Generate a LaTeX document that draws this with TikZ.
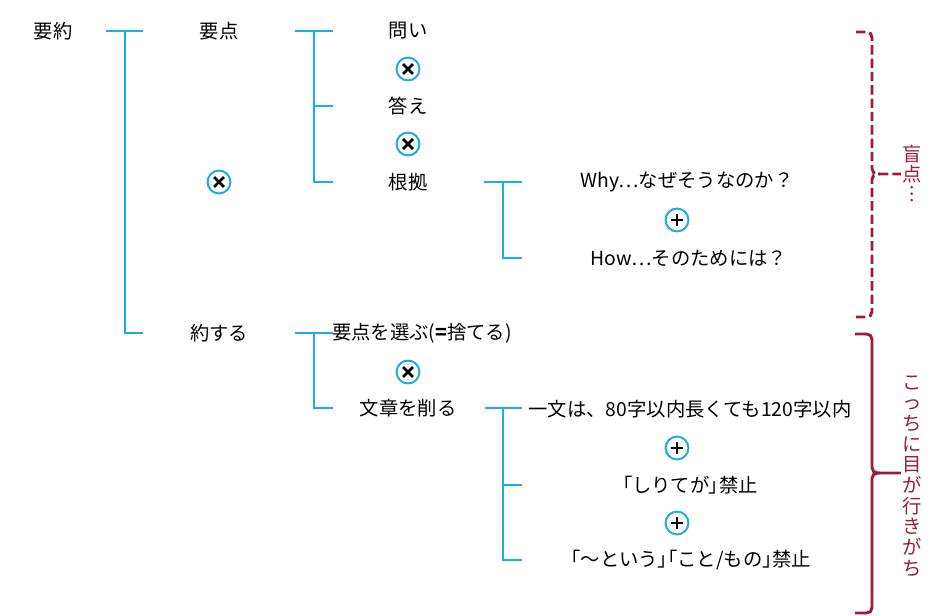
\documentclass[tikz,border=0pt]{standalone}
\usepackage{fontspec}
\newfontfamily\jp{Noto Sans CJK JP}
\newfontfamily\jpp[RawFeature=+palt]{Noto Sans CJK JP}
\usetikzlibrary{calc}
\definecolor{tblue}{RGB}{30,172,226}
\definecolor{bred}{RGB}{160,28,54}
\newcommand{\pl}[1]{{\jpp #1}}
\begin{document}
\begin{tikzpicture}[x=0.75pt,y=-0.75pt,
  lbl/.style={font=\jp\fontsize{14.5}{17}\selectfont, inner sep=0pt, anchor=center},
  vlbl/.style={font=\jp\fontsize{14.5}{15.5}\selectfont, text=bred, inner sep=0pt, align=center, anchor=center},
  treeline/.style={draw=tblue, line width=1.6pt},
  bracebase/.style={draw=bred, line width=2.2pt, rounded corners=4pt},
  opcirc/.style={circle, draw=tblue, line width=1.5pt, minimum size=17.2pt, inner sep=0pt},
  timesop/.style={opcirc, path picture={
     \draw[black, line width=2pt]
       ([shift={(-3.7pt,-3.7pt)}]path picture bounding box.center) -- ([shift={(3.7pt,3.7pt)}]path picture bounding box.center)
       ([shift={(-3.7pt,3.7pt)}]path picture bounding box.center) -- ([shift={(3.7pt,-3.7pt)}]path picture bounding box.center);}},
  plusop/.style={opcirc, path picture={
     \draw[black, line width=2pt]
       ([shift={(-4.4pt,0pt)}]path picture bounding box.center) -- ([shift={(4.4pt,0pt)}]path picture bounding box.center)
       ([shift={(0pt,-4.4pt)}]path picture bounding box.center) -- ([shift={(0pt,4.4pt)}]path picture bounding box.center);}}
]
\useasboundingbox (0,0) rectangle (933,615);

% text nodes
\node[lbl] (n0) at (53,31) {要約};
\node[lbl] (n1) at (219,31) {要点};
\node[lbl] (n2) at (219,333) {約する};
\node[lbl] (n11) at (408,31) {問い};
\node[lbl] (n12) at (408,106) {答え};
\node[lbl] (n13) at (408,182) {根拠};
\node[lbl] (n131) at (687,182) {Why…なぜそうなのか？};
\node[lbl] (n132) at (689,258) {How…そのためには？};
\node[lbl] (n21) at (422,333) {要点を選ぶ(\textbf{=}捨てる)};
\node[lbl] (n22) at (408,408) {文章を削る};
\node[lbl] (n221) at (690,409) {一文は、80字以内長くても120字以内};
\node[lbl] (n222) at (690,485) {\pl{「}しりてが\pl{」}禁止};
\node[lbl] (n223) at (691,560) {\pl{「}～という\pl{」「}こと/もの\pl{」}禁止};

% operators
\node[timesop] (o1) at (219,182) {};
\node[timesop] (o2) at (408,69) {};
\node[timesop] (o3) at (408,144) {};
\node[plusop] (o4) at (677,220) {};
\node[timesop] (o5) at (408,372) {};
\node[plusop] (o6) at (677,448) {};
\node[plusop] (o7) at (677,523) {};

% tree connectors (bracket coordinates)
\coordinate (a0) at (106,31); \coordinate (s0) at (125,31);
\coordinate (b0) at (143,31); \coordinate (c0) at (143,333);
\draw[treeline] (a0) -- (b0);
\draw[treeline] (s0) |- (c0);

\coordinate (a1) at (295,31); \coordinate (s1) at (314,31);
\coordinate (b1) at (333,31); \coordinate (m1) at (333,106); \coordinate (c1) at (333,182);
\draw[treeline] (a1) -- (b1);
\draw[treeline] (s1) |- (c1);
\draw[treeline] (s1 |- m1) -- (m1);

\coordinate (a2) at (484,182); \coordinate (s2) at (503,182);
\coordinate (b2) at (522,182); \coordinate (c2) at (522,258);
\draw[treeline] (a2) -- (b2);
\draw[treeline] (s2) |- (c2);

\coordinate (a3) at (295,333); \coordinate (s3) at (314,333);
\coordinate (b3) at (333,333); \coordinate (c3) at (333,408);
\draw[treeline] (a3) -- (b3);
\draw[treeline] (s3) |- (c3);

\coordinate (a4) at (485,408); \coordinate (s4) at (503,408);
\coordinate (b4) at (522,408); \coordinate (m4) at (522,485); \coordinate (c4) at (522,560);
\draw[treeline] (a4) -- (b4);
\draw[treeline] (s4) |- (c4);
\draw[treeline] (s4 |- m4) -- (m4);

% braces
\coordinate (d1t) at (856,32); \coordinate (d1b) at (856,317);
\coordinate (d1s) at (872,174); \coordinate (d1p) at (901,174);
\draw[bracebase, dash pattern=on 7pt off 3pt] (d1t) -- (d1t -| d1s) -- (d1s) -- (d1p);
\draw[bracebase, dash pattern=on 7pt off 3pt] (d1b) -- (d1b -| d1s) -- (d1s) -- ([xshift=6pt]d1s);
\node[vlbl, font=\jp\fontsize{14.5}{15}\selectfont] (lab1) at (912,174) {盲\\点\\︙};

\coordinate (d2t) at (855,334); \coordinate (d2b) at (855,613);
\coordinate (d2s) at (872,473); \coordinate (d2p) at (901,473);
\draw[bracebase] (d2t) -- (d2t -| d2s) -- (d2s) -- (d2p);
\draw[bracebase] (d2b) -- (d2b -| d2s) -- (d2s) -- ([xshift=6pt]d2s);
\node[vlbl] (lab2) at (912,476) {こ\\っ\\ち\\に\\目\\が\\行\\き\\が\\ち};
\end{tikzpicture}
\end{document}
